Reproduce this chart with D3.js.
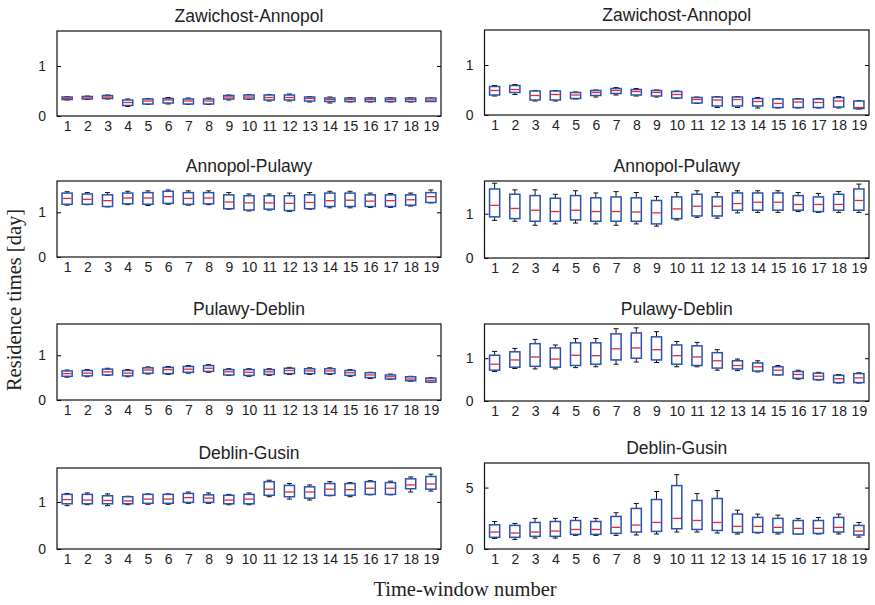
<!DOCTYPE html>
<html>
<head>
<meta charset="utf-8">
<script src="https://cdn.jsdelivr.net/npm/d3@7"></script>
<style>
  body { margin: 0; background: #fff; }
  text { font-family: "Liberation Sans", Arial, Helvetica, sans-serif; fill: #222; }
  .serif { font-family: "Liberation Serif", "Times New Roman", serif; }
</style>
</head>
<body>
<svg id="chart" width="875" height="605"></svg>
<script>
// Time windows on the x axis
const windows = [1, 2, 3, 4, 5, 6, 7, 8, 9, 10, 11, 12, 13, 14, 15, 16, 17, 18, 19];

// River reaches (one row of panels each)
const reaches = ["Zawichost-Annopol", "Annopol-Pulawy", "Pulawy-Deblin", "Deblin-Gusin"];

// Box statistics per window: [lower whisker, Q1, median, Q3, upper whisker], in days
const zawichostLeft = [
  [0.32,0.33,0.35,0.38,0.39],[0.33,0.34,0.36,0.39,0.40],[0.34,0.35,0.38,0.41,0.42],
  [0.19,0.21,0.27,0.32,0.34],[0.23,0.24,0.30,0.34,0.35],[0.24,0.26,0.32,0.35,0.37],
  [0.23,0.24,0.30,0.34,0.36],[0.23,0.24,0.30,0.34,0.36],[0.32,0.34,0.38,0.41,0.42],
  [0.33,0.34,0.38,0.42,0.43],[0.30,0.32,0.37,0.42,0.43],[0.30,0.32,0.37,0.42,0.44],
  [0.28,0.30,0.35,0.38,0.39],[0.26,0.29,0.33,0.36,0.38],[0.28,0.29,0.33,0.36,0.37],
  [0.28,0.29,0.33,0.36,0.37],[0.28,0.29,0.33,0.36,0.37],[0.28,0.29,0.33,0.36,0.37],
  [0.29,0.29,0.32,0.36,0.36]
];
const zawichostRight = [
  [0.38,0.40,0.49,0.57,0.59],[0.41,0.45,0.51,0.59,0.61],[0.28,0.30,0.39,0.48,0.49],
  [0.28,0.30,0.41,0.48,0.49],[0.32,0.33,0.40,0.45,0.46],[0.36,0.39,0.45,0.49,0.50],
  [0.40,0.43,0.49,0.53,0.55],[0.38,0.40,0.47,0.51,0.53],[0.36,0.38,0.45,0.49,0.50],
  [0.33,0.34,0.41,0.47,0.48],[0.23,0.24,0.31,0.35,0.36],[0.15,0.18,0.30,0.36,0.37],
  [0.15,0.18,0.31,0.36,0.37],[0.14,0.18,0.27,0.33,0.35],[0.14,0.15,0.23,0.32,0.33],
  [0.14,0.15,0.26,0.32,0.33],[0.14,0.15,0.25,0.32,0.33],[0.14,0.16,0.28,0.35,0.37],
  [0.12,0.13,0.15,0.28,0.29]
];
const annopolLeft = [
  [1.16,1.18,1.31,1.43,1.46],[1.17,1.18,1.29,1.41,1.44],[1.12,1.13,1.26,1.39,1.44],
  [1.17,1.19,1.32,1.43,1.47],[1.15,1.18,1.32,1.44,1.48],[1.18,1.20,1.35,1.47,1.50],
  [1.16,1.18,1.31,1.44,1.48],[1.17,1.19,1.32,1.44,1.48],[1.07,1.08,1.23,1.39,1.44],
  [1.03,1.05,1.21,1.37,1.41],[1.05,1.07,1.21,1.37,1.41],[1.02,1.04,1.20,1.37,1.43],
  [1.07,1.08,1.22,1.39,1.44],[1.10,1.13,1.26,1.43,1.47],[1.10,1.13,1.27,1.43,1.47],
  [1.11,1.13,1.25,1.39,1.43],[1.11,1.13,1.26,1.39,1.42],[1.14,1.16,1.28,1.39,1.43],
  [1.21,1.22,1.35,1.44,1.50]
];
const annopolRight = [
  [0.85,0.93,1.19,1.56,1.69],[0.83,0.89,1.12,1.44,1.54],[0.74,0.83,1.08,1.41,1.54],
  [0.77,0.83,1.05,1.35,1.44],[0.79,0.86,1.08,1.41,1.52],[0.77,0.83,1.05,1.36,1.47],
  [0.74,0.83,1.05,1.38,1.50],[0.77,0.83,1.04,1.36,1.48],[0.72,0.77,1.02,1.30,1.39],
  [0.86,0.89,1.11,1.38,1.48],[0.92,0.95,1.17,1.44,1.52],[0.90,0.95,1.17,1.38,1.48],
  [1.02,1.08,1.23,1.47,1.52],[1.03,1.08,1.26,1.47,1.52],[1.03,1.08,1.26,1.47,1.52],
  [1.05,1.08,1.21,1.41,1.48],[1.03,1.05,1.21,1.38,1.46],[1.03,1.08,1.21,1.44,1.50],
  [1.03,1.08,1.30,1.56,1.67]
];
const pulawyLeft = [
  [0.51,0.53,0.59,0.65,0.67],[0.52,0.54,0.60,0.66,0.68],[0.55,0.56,0.63,0.69,0.71],
  [0.52,0.54,0.60,0.66,0.68],[0.58,0.60,0.67,0.72,0.74],[0.57,0.59,0.68,0.73,0.75],
  [0.60,0.62,0.69,0.75,0.77],[0.62,0.64,0.71,0.77,0.79],[0.55,0.56,0.63,0.68,0.70],
  [0.53,0.55,0.62,0.68,0.70],[0.55,0.57,0.63,0.68,0.70],[0.57,0.59,0.66,0.71,0.73],
  [0.57,0.59,0.65,0.70,0.72],[0.57,0.59,0.65,0.70,0.72],[0.53,0.55,0.61,0.66,0.68],
  [0.48,0.50,0.56,0.61,0.62],[0.46,0.47,0.52,0.56,0.58],[0.42,0.43,0.47,0.52,0.53],
  [0.39,0.40,0.44,0.49,0.50]
];
const pulawyRight = [
  [0.69,0.72,0.86,1.07,1.16],[0.76,0.79,0.96,1.15,1.23],[0.75,0.81,1.03,1.34,1.44],
  [0.75,0.79,0.98,1.24,1.31],[0.78,0.83,1.07,1.36,1.46],[0.80,0.86,1.06,1.36,1.46],
  [0.86,0.96,1.22,1.57,1.69],[0.91,1.00,1.24,1.59,1.71],[0.90,0.96,1.20,1.50,1.62],
  [0.80,0.86,1.06,1.31,1.39],[0.80,0.83,1.03,1.29,1.37],[0.72,0.77,0.94,1.13,1.20],
  [0.71,0.75,0.83,0.94,0.98],[0.68,0.70,0.80,0.89,0.94],[0.61,0.61,0.72,0.80,0.83],
  [0.51,0.53,0.62,0.69,0.72],[0.49,0.50,0.58,0.65,0.67],[0.42,0.43,0.52,0.60,0.62],
  [0.42,0.43,0.54,0.64,0.66]
];
const deblinLeft = [
  [0.92,0.96,1.05,1.16,1.18],[0.94,0.96,1.04,1.16,1.19],[0.92,0.96,1.03,1.13,1.17],
  [0.94,0.96,1.02,1.11,1.12],[0.95,0.97,1.06,1.16,1.17],[0.95,0.97,1.06,1.16,1.17],
  [0.97,0.99,1.09,1.18,1.21],[0.97,0.99,1.08,1.15,1.19],[0.94,0.96,1.04,1.14,1.16],
  [0.94,0.96,1.06,1.16,1.19],[1.11,1.14,1.27,1.43,1.46],[1.06,1.11,1.21,1.35,1.39],
  [1.04,1.08,1.21,1.32,1.36],[1.13,1.14,1.27,1.39,1.43],[1.11,1.14,1.26,1.39,1.41],
  [1.15,1.16,1.29,1.43,1.45],[1.15,1.16,1.29,1.41,1.44],[1.21,1.28,1.36,1.49,1.53],
  [1.23,1.27,1.38,1.54,1.59]
];
const deblinRight = [
  [0.86,0.95,1.38,1.97,2.24],[0.78,0.95,1.30,1.92,2.08],[0.89,1.03,1.38,2.16,2.49],
  [0.89,1.03,1.46,2.24,2.49],[1.11,1.19,1.59,2.32,2.57],[1.11,1.19,1.59,2.24,2.49],
  [1.11,1.27,1.76,2.65,2.95],[1.14,1.38,1.95,3.30,3.70],[1.22,1.43,2.16,4.03,4.68],
  [1.38,1.65,2.49,5.16,6.05],[1.38,1.59,2.32,3.95,4.51],[1.30,1.51,2.16,4.11,4.76],
  [1.22,1.35,1.84,2.84,3.16],[1.30,1.35,1.84,2.57,2.84],[1.22,1.35,1.76,2.49,2.76],
  [1.22,1.22,1.68,2.32,2.49],[1.22,1.27,1.68,2.32,2.57],[1.22,1.38,1.76,2.57,2.84],
  [0.97,1.14,1.46,1.92,2.16]
];

// y-axis ticks and upper limits for each panel (left column, right column)
const leftTicks  = [[0, 1], [0, 1], [0, 1], [0, 1]];
const rightTicks = [[0, 1], [0, 1], [0, 1], [0, 5]];
const leftMax  = [1.7, 1.7, 1.7, 1.72];
const rightMax = [1.7, 1.74, 1.8, 7];

const leftSeries  = [zawichostLeft, annopolLeft, pulawyLeft, deblinLeft];
const rightSeries = [zawichostRight, annopolRight, pulawyRight, deblinRight];

// ---- layout ----
const columns = [
  { x0: 57, x1: 441, series: leftSeries, ticks: leftTicks, ymax: leftMax,
    rows: [[31, 116], [181, 257], [324, 400], [468, 549]] },
  { x0: 484.5, x1: 869, series: rightSeries, ticks: rightTicks, ymax: rightMax,
    rows: [[30, 115], [181, 258], [324, 401], [463, 549]] }
];

const BOX_BLUE = "#2b50b0";
const MEDIAN_RED = "#e8272c";

const svg = d3.select("#chart");

columns.forEach(col => {
  col.rows.forEach(([top, bottom], r) => {
    const data = col.series[r];
    const x = d3.scalePoint().domain(windows).range([col.x0, col.x1]).padding(0.5);
    const y = d3.scaleLinear().domain([0, col.ymax[r]]).range([bottom, top]);
    const step = x.step();
    const boxW = step * 0.5;
    const capW = step * 0.25;

    const g = svg.append("g");

    // panel title
    g.append("text")
      .attr("x", (col.x0 + col.x1) / 2)
      .attr("y", top - 9)
      .attr("text-anchor", "middle")
      .style("font-size", "17.5px")
      .text(reaches[r]);

    // boxes
    const boxes = g.append("g").selectAll("g")
      .data(data.map((d, i) => ({ w: windows[i], s: d })))
      .join("g");

    // whiskers
    boxes.append("line")
      .attr("x1", d => x(d.w)).attr("x2", d => x(d.w))
      .attr("y1", d => y(d.s[3])).attr("y2", d => y(d.s[4]))
      .attr("stroke", "#111").attr("stroke-width", 1);
    boxes.append("line")
      .attr("x1", d => x(d.w)).attr("x2", d => x(d.w))
      .attr("y1", d => y(d.s[1])).attr("y2", d => y(d.s[0]))
      .attr("stroke", "#111").attr("stroke-width", 1);
    // whisker caps
    [0, 4].forEach(k => {
      boxes.append("line")
        .attr("x1", d => x(d.w) - capW / 2).attr("x2", d => x(d.w) + capW / 2)
        .attr("y1", d => y(d.s[k])).attr("y2", d => y(d.s[k]))
        .attr("stroke", "#111").attr("stroke-width", 1);
    });
    // box
    boxes.append("rect")
      .attr("x", d => x(d.w) - boxW / 2)
      .attr("width", boxW)
      .attr("y", d => y(d.s[3]))
      .attr("height", d => y(d.s[1]) - y(d.s[3]))
      .attr("fill", "#fff")
      .attr("stroke", BOX_BLUE).attr("stroke-width", 1.5);
    // median
    boxes.append("line")
      .attr("x1", d => x(d.w) - boxW / 2 + 0.8).attr("x2", d => x(d.w) + boxW / 2 - 0.8)
      .attr("y1", d => y(d.s[2])).attr("y2", d => y(d.s[2]))
      .attr("stroke", MEDIAN_RED).attr("stroke-width", 1.3);

    // x axis labels
    const xAxis = g.append("g")
      .attr("transform", `translate(0,${bottom})`)
      .call(d3.axisBottom(x).tickSize(0).tickPadding(5));
    xAxis.select(".domain").remove();
    xAxis.selectAll("text").style("font-size", "14px").style("font-family", null).attr("fill", "#222");

    // y axis: inward ticks on both sides
    const yAxis = g.append("g")
      .attr("transform", `translate(${col.x0},0)`)
      .call(d3.axisLeft(y).tickValues(col.ticks[r]).tickFormat(d3.format("d"))
        .tickSizeInner(-4).tickSizeOuter(0).tickPadding(11));
    yAxis.select(".domain").remove();
    yAxis.selectAll("text").style("font-size", "14px").style("font-family", null).attr("fill", "#222");
    const yRight = g.append("g")
      .attr("transform", `translate(${col.x1},0)`)
      .call(d3.axisRight(y).tickValues(col.ticks[r]).tickSizeInner(-4).tickSizeOuter(0).tickFormat(""));
    yRight.select(".domain").remove();

    // frame
    g.append("rect")
      .attr("x", col.x0).attr("y", top)
      .attr("width", col.x1 - col.x0).attr("height", bottom - top)
      .attr("fill", "none").attr("stroke", "#111").attr("stroke-width", 1.2);
  });
});

// shared axis titles
svg.append("text")
  .attr("class", "serif")
  .attr("transform", "translate(21,300) rotate(-90)")
  .attr("text-anchor", "middle")
  .style("font-size", "20.5px")
  .text("Residence times [day]");

svg.append("text")
  .attr("class", "serif")
  .attr("x", 465).attr("y", 596)
  .attr("text-anchor", "middle")
  .style("font-size", "20.5px")
  .text("Time-window number");
</script>
</body>
</html>
